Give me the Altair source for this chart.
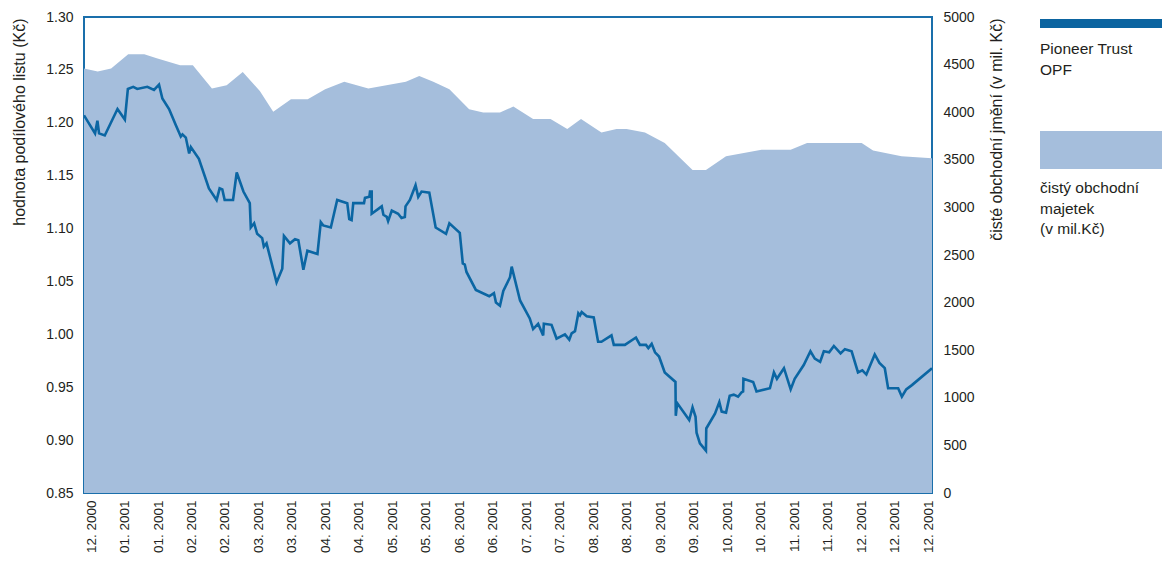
import json
import altair as alt
import pandas as pd

# x-axis category labels (one every half month slot)
x_labels = ["12. 2000", "01. 2001", "01. 2001", "02. 2001", "02. 2001", "03. 2001",
            "03. 2001", "04. 2001", "04. 2001", "05. 2001", "05. 2001", "06. 2001",
            "06. 2001", "07. 2001", "07. 2001", "08. 2001", "08. 2001", "09. 2001",
            "09. 2001", "10. 2001", "10. 2001", "11. 2001", "11. 2001", "12. 2001",
            "12. 2001", "12. 2001"]

# net assets (mil. Kč), right axis
assets_t = [-0.21, 0.20, 0.60, 1.11, 1.59, 1.96, 2.66, 3.04, 3.61, 4.05, 4.53, 5.04,
            5.44, 5.97, 6.47, 6.99, 7.56, 8.28, 9.40, 9.80, 10.22, 10.70, 11.29, 11.71,
            12.21, 12.61, 13.20, 13.72, 14.22, 14.63, 15.24, 15.69, 15.99, 16.54, 17.13,
            17.96, 18.36, 18.96, 20.02, 20.89, 21.38, 23.01, 23.35, 24.20, 25.11]
assets_v = [4458, 4427, 4458, 4609, 4609, 4567, 4494, 4494, 4248, 4284, 4423, 4224,
            4004, 4137, 4137, 4242, 4319, 4248, 4319, 4381, 4319, 4242, 4032, 3997,
            3997, 4060, 3928, 3928, 3823, 3928, 3787, 3823, 3823, 3787, 3676,
            3393, 3393, 3536, 3606, 3606, 3676, 3676, 3598, 3536, 3515]

# unit value (Kč), left axis
nav_t = [-0.21, 0.12, 0.19, 0.24, 0.41, 0.79, 1.01, 1.10, 1.26, 1.38, 1.68, 1.88, 2.03,
         2.13, 2.33, 2.53, 2.68, 2.73, 2.83, 2.93, 2.98, 3.22, 3.52, 3.75, 3.84, 3.92,
         3.99, 4.24, 4.35, 4.55, 4.74, 4.77, 4.87, 4.96, 5.11, 5.16, 5.24, 5.54, 5.71,
         5.76, 5.94, 6.09, 6.19, 6.34, 6.46, 6.76, 6.86, 6.93, 7.16, 7.35, 7.65, 7.71,
         7.78, 7.83, 8.15, 8.18, 8.31, 8.33, 8.38, 8.38, 8.68, 8.73, 8.83, 8.87, 8.98,
         9.17, 9.27, 9.37, 9.39, 9.52, 9.69, 9.77, 9.87, 10.10, 10.29, 10.60, 10.70,
         11.01, 11.10, 11.16, 11.21, 11.49, 11.89, 12.03, 12.09, 12.21, 12.31, 12.51,
         12.56, 12.81, 13.10, 13.20, 13.35, 13.50, 13.52, 13.75, 13.90, 14.15, 14.28,
         14.35, 14.45, 14.55, 14.60, 14.65, 14.80, 15.01, 15.14, 15.24, 15.54, 15.61,
         15.94, 16.27, 16.39, 16.57, 16.64, 16.74, 16.84, 16.96, 17.13, 17.45, 17.46,
         17.50, 17.86, 17.96, 18.05, 18.08, 18.18, 18.36, 18.37, 18.63, 18.76, 18.83,
         18.96, 19.07, 19.19, 19.32, 19.42, 19.47, 19.48, 19.77, 19.87, 20.27, 20.39,
         20.48, 20.69, 20.89, 21.01, 21.28, 21.48, 21.61, 21.77, 21.88, 22.04, 22.18,
         22.38, 22.51, 22.71, 22.90, 23.03, 23.15, 23.40, 23.54, 23.70, 23.80, 24.10,
         24.21, 24.34, 24.51, 25.11]
nav_v = [1.207, 1.190, 1.202, 1.190, 1.188, 1.213, 1.203, 1.232, 1.234, 1.232, 1.234,
         1.231, 1.236, 1.223, 1.213, 1.198, 1.187, 1.189, 1.186, 1.171, 1.177, 1.166,
         1.138, 1.127, 1.138, 1.137, 1.127, 1.127, 1.153, 1.135, 1.124, 1.101, 1.105,
         1.095, 1.091, 1.083, 1.086, 1.049, 1.062, 1.093, 1.086, 1.090, 1.089, 1.061,
         1.079, 1.076, 1.106, 1.103, 1.101, 1.127, 1.124, 1.109, 1.108, 1.124, 1.124,
         1.129, 1.130, 1.135, 1.135, 1.114, 1.121, 1.113, 1.111, 1.107, 1.117, 1.114,
         1.110, 1.111, 1.121, 1.127, 1.141, 1.130, 1.135, 1.134, 1.101, 1.095, 1.105,
         1.096, 1.067, 1.066, 1.059, 1.042, 1.036, 1.039, 1.030, 1.027, 1.041, 1.054,
         1.064, 1.032, 1.015, 1.005, 1.010, 0.999, 1.010, 1.009, 0.996, 1.000, 0.995,
         1.001, 1.003, 1.020, 1.018, 1.021, 1.017, 1.016, 0.993, 0.993, 0.999, 0.990,
         0.990, 0.997, 0.990, 0.990, 0.987, 0.991, 0.983, 0.979, 0.964, 0.955, 0.923,
         0.935, 0.919, 0.931, 0.922, 0.907, 0.897, 0.890, 0.911, 0.925, 0.936, 0.927,
         0.926, 0.942, 0.943, 0.941, 0.945, 0.946, 0.958, 0.955, 0.946, 0.949, 0.964,
         0.958, 0.968, 0.948, 0.958, 0.971, 0.984, 0.977, 0.974, 0.984, 0.983, 0.989,
         0.982, 0.986, 0.984, 0.964, 0.966, 0.962, 0.981, 0.973, 0.968, 0.949, 0.949,
         0.941, 0.948, 0.952, 0.968]

legend_line_label = ["Pioneer Trust", "OPF"]
legend_area_label = ["čistý obchodní", "majetek", "(v mil.Kč)"]

LINE_C = "#0b66a3"
AREA_C = "#a5bedc"
FRAME_C = "#1a6fab"
TEXT_C = "#231f20"
FONT = "Liberation Sans"

W, H = 848, 476

assets_df = pd.DataFrame({"t": assets_t, "v": assets_v})
nav_df = pd.DataFrame({"t": nav_t, "nav": nav_v, "i": list(range(len(nav_t)))})
one = pd.DataFrame({"k": [0]})

x_scale = alt.Scale(domain=[-0.21, 25.11], nice=False, zero=False)
x_axis = alt.Axis(values=list(range(len(x_labels))),
                  labelExpr=json.dumps(x_labels) + "[round(datum.value)]",
                  labelAngle=270, labelPadding=7, labelFontSize=13.5, labelOverlap=False,
                  labelFlush=False, labelBound=False, title=None)

area = alt.Chart(assets_df).mark_area(color=AREA_C, opacity=1).encode(
    x=alt.X("t:Q", scale=x_scale, axis=x_axis),
    y=alt.Y("v:Q", scale=alt.Scale(domain=[0, 5000], nice=False),
            axis=alt.Axis(orient="right", values=list(range(0, 5001, 500)), format="d",
                          labelPadding=11, title="čisté obchodní jmění (v mil. Kč)",
                          titleAngle=270, titleAlign="right", titleBaseline="alphabetic",
                          titleX=69, titleY=1)),
)

line = alt.Chart(nav_df).mark_line(color=LINE_C, strokeWidth=2.6, clip=True).encode(
    x=alt.X("t:Q", scale=x_scale, axis=x_axis),
    y=alt.Y("nav:Q", scale=alt.Scale(domain=[0.85, 1.30], nice=False, zero=False),
            axis=alt.Axis(orient="left", values=[0.85, 0.90, 0.95, 1.00, 1.05, 1.10,
                                                 1.15, 1.20, 1.25, 1.30],
                          format=".2f", labelPadding=11,
                          title="hodnota podílového listu (Kč)",
                          titleAngle=270, titleAlign="right", titleBaseline="alphabetic",
                          titleX=-60, titleY=1)),
    order=alt.Order("i:Q"),
)

leg_bar1 = alt.Chart(one).mark_rect(color="#0b64a0").encode(
    x=alt.value(956), x2=alt.value(1078), y=alt.value(2), y2=alt.value(11))
leg_bar2 = alt.Chart(one).mark_rect(color=AREA_C).encode(
    x=alt.value(956), x2=alt.value(1078), y=alt.value(114), y2=alt.value(152))
leg_txt1 = alt.Chart(one).mark_text(align="left", baseline="alphabetic", font=FONT,
                                    fontSize=15.5, lineHeight=21, color=TEXT_C).encode(
    x=alt.value(956), y=alt.value(36.5), text=alt.value(legend_line_label))
leg_txt2 = alt.Chart(one).mark_text(align="left", baseline="alphabetic", font=FONT,
                                    fontSize=15.5, lineHeight=20.5, color=TEXT_C).encode(
    x=alt.value(956), y=alt.value(176), text=alt.value(legend_area_label))

chart = alt.layer(area, line, leg_bar1, leg_bar2, leg_txt1, leg_txt2).resolve_scale(
    y="independent"
).properties(
    width=W, height=H,
    autosize=alt.AutoSizeParams(type="none"),
    padding={"left": 76, "top": 9, "right": 230, "bottom": 61},
).configure_view(
    stroke=FRAME_C, strokeWidth=2
).configure_axis(
    grid=False, domain=False, ticks=False, tickSize=0,
    labelFont=FONT, labelFontSize=14, labelColor=TEXT_C,
    titleFont=FONT, titleFontSize=16, titleFontWeight="normal", titleColor=TEXT_C,
)

chart.save("out.html", embed_options={"renderer": "svg", "actions": False})
